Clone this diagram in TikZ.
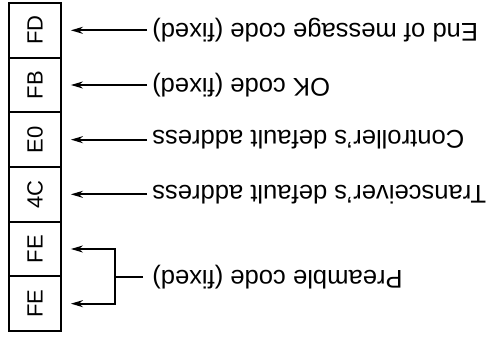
\documentclass[tikz,border=0pt]{standalone}
\usepackage{fontspec}
\usepackage{graphicx}
\setmainfont{Liberation Sans}
\usetikzlibrary{arrows.meta}
\begin{document}
\begin{tikzpicture}[x=1pt,y=-1pt,
  cell/.style={draw, line width=1.8pt, minimum width=52pt, minimum height=54.67pt, inner sep=0pt, font=\fontsize{22}{24}\selectfont},
  lbl/.style={rotate=180, anchor=east, inner sep=0pt, font=\fontsize{25.6}{30}\selectfont},
  arr/.style={line width=1.8pt, -{Stealth[length=12pt,width=7pt]}, shorten <=5pt, shorten >=9pt},
  ln/.style={line width=1.8pt}]
\useasboundingbox (0,0) rectangle (490,339);
\fill[white] (0,0) rectangle (490,339);
\node[cell] (b1) at (35,30.33) {\rotatebox{90}{FD}};
\node[cell] (b2) at (35,85) {\rotatebox{90}{FB}};
\node[cell] (b3) at (35,139.67) {\rotatebox{90}{E0}};
\node[cell] (b4) at (35,194.33) {\rotatebox{90}{4C}};
\node[cell] (b5) at (35,249) {\rotatebox{90}{FE}};
\node[cell] (b6) at (35,303.67) {\rotatebox{90}{FE}};
\node[lbl] (t1) at (152,30.33) {End of message code (fixed)};
\node[lbl] (t2) at (152,85) {OK code (fixed)};
\node[lbl] (t3) at (152,139.67) {Controller's default address};
\node[lbl] (t4) at (152,194.33) {Transceiver's default address};
\node[lbl] (t5) at (152,277) {Preamble code (fixed)};
\draw[arr] (t1.east) -- (b1.east);
\draw[arr] (t2.east) -- (b2.east);
\draw[arr] (t3.east) -- (b3.east);
\draw[arr] (t4.east) -- (b4.east);
\coordinate (br) at (115,277);
\draw[ln, shorten <=9pt] (t5.east) -- (br);
\draw[arr, shorten <=0pt] (br) |- (b5.east);
\draw[arr, shorten <=0pt] (br) |- (b6.east);
\end{tikzpicture}
\end{document}
